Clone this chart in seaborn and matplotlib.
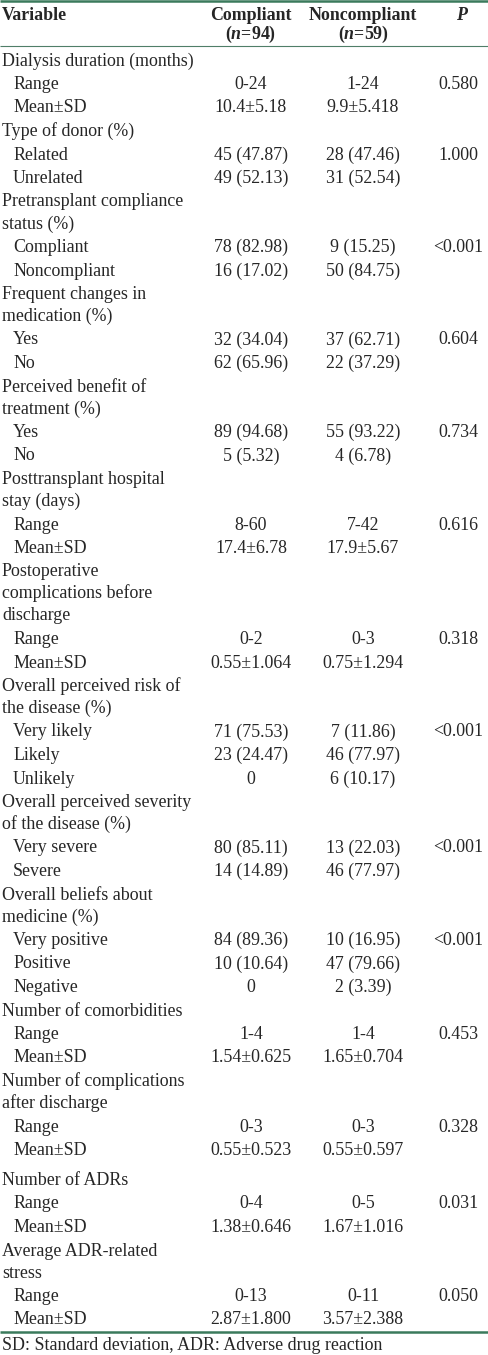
import numpy as np
import pandas as pd
import seaborn as sns
import matplotlib as mpl
import matplotlib.pyplot as plt

sns.set_theme(style="white")
mpl.rcParams["font.family"] = ["Liberation Serif", "DejaVu Serif"]
mpl.rcParams["mathtext.fontset"] = "custom"
mpl.rcParams["mathtext.rm"] = "Liberation Serif"
mpl.rcParams["mathtext.it"] = "Liberation Serif:italic"
mpl.rcParams["mathtext.bf"] = "Liberation Serif:bold"
mpl.rcParams["mathtext.bfit"] = "Liberation Serif:bold:italic"

# table content
col_headers = ["Variable", "Compliant", "Noncompliant", "P"]
group_sizes = ["94", "59"]

row_label = [
    "Dialysis duration (months)", "Range", "Mean±SD",
    "Type of donor (%)", "Related", "Unrelated",
    "Pretransplant compliance\nstatus (%)", "Compliant", "Noncompliant",
    "Frequent changes in\nmedication (%)", "Yes", "No",
    "Perceived benefit of\ntreatment (%)", "Yes", "No",
    "Posttransplant hospital\nstay (days)", "Range", "Mean±SD",
    "Postoperative\ncomplications before\ndischarge", "Range", "Mean±SD",
    "Overall perceived risk of\nthe disease (%)", "Very likely", "Likely", "Unlikely",
    "Overall perceived severity\nof the disease (%)", "Very severe", "Severe",
    "Overall beliefs about\nmedicine (%)", "Very positive", "Positive", "Negative",
    "Number of comorbidities", "Range", "Mean±SD",
    "Number of complications\nafter discharge", "Range", "Mean±SD",
    "Number of ADRs", "Range", "Mean±SD",
    "Average ADR-related\nstress", "Range", "Mean±SD",
]
row_level = [
    0, 1, 1,
    0, 1, 1,
    0, 1, 1,
    0, 1, 1,
    0, 1, 1,
    0, 1, 1,
    0, 1, 1,
    0, 1, 1, 1,
    0, 1, 1,
    0, 1, 1, 1,
    0, 1, 1,
    0, 1, 1,
    0, 1, 1,
    0, 1, 1,
]
compliant = [
    "", "0-24", "10.4±5.18",
    "", "45 (47.87)", "49 (52.13)",
    "", "78 (82.98)", "16 (17.02)",
    "", "32 (34.04)", "62 (65.96)",
    "", "89 (94.68)", "5 (5.32)",
    "", "8-60", "17.4±6.78",
    "", "0-2", "0.55±1.064",
    "", "71 (75.53)", "23 (24.47)", "0",
    "", "80 (85.11)", "14 (14.89)",
    "", "84 (89.36)", "10 (10.64)", "0",
    "", "1-4", "1.54±0.625",
    "", "0-3", "0.55±0.523",
    "", "0-4", "1.38±0.646",
    "", "0-13", "2.87±1.800",
]
noncompliant = [
    "", "1-24", "9.9±5.418",
    "", "28 (47.46)", "31 (52.54)",
    "", "9 (15.25)", "50 (84.75)",
    "", "37 (62.71)", "22 (37.29)",
    "", "55 (93.22)", "4 (6.78)",
    "", "7-42", "17.9±5.67",
    "", "0-3", "0.75±1.294",
    "", "7 (11.86)", "46 (77.97)", "6 (10.17)",
    "", "13 (22.03)", "46 (77.97)",
    "", "10 (16.95)", "47 (79.66)", "2 (3.39)",
    "", "1-4", "1.65±0.704",
    "", "0-3", "0.55±0.597",
    "", "0-5", "1.67±1.016",
    "", "0-11", "3.57±2.388",
]
p_value = [
    "", "0.580", "",
    "", "1.000", "",
    "", "<0.001", "",
    "", "0.604", "",
    "", "0.734", "",
    "", "0.616", "",
    "", "0.318", "",
    "", "<0.001", "", "",
    "", "<0.001", "",
    "", "<0.001", "", "",
    "", "0.453", "",
    "", "0.328", "",
    "", "0.031", "",
    "", "0.050", "",
]
footnote = "SD: Standard deviation, ADR: Adverse drug reaction"

df = pd.DataFrame({"label": row_label, "level": row_level, "comp": compliant,
                   "noncomp": noncompliant, "p": p_value})

# layout (pixels)
W, H = 488, 1355
fs = 12.9
green = "#3b7a5c"
x_var, x_sub, x_comp, x_non, x_p = 2, 13, 251, 363, 458
first_y, row_step, wrap_step = 60, 23.5, 22.0
gaps = {"Number of ADRs": 6.5}
base_off = 5.5

fig = plt.figure(figsize=(W / 100, H / 100), dpi=100)
ax = fig.add_axes([0, 0, 1, 1])
ax.set_xlim(0, W)
ax.set_ylim(H, 0)
ax.axis("off")

# rules
ax.hlines(1.2, 0, W, color=green, lw=1.8)
ax.hlines(45.7, 0, W, color="#4f7e68", lw=0.8)
ax.hlines(1332, 0, W, color=green, lw=1.8)

# header
hb1, hb2 = 19.5, 38.5
ax.text(x_var, hb1, col_headers[0], fontsize=fs, fontweight="bold", va="baseline", ha="left")
ax.text(x_comp, hb1, col_headers[1], fontsize=fs, fontweight="bold", va="baseline", ha="center")
ax.text(x_non, hb1, col_headers[2], fontsize=fs, fontweight="bold", va="baseline", ha="center")
ax.text(x_p + 3, hb1, col_headers[3], fontsize=fs, fontweight="bold", fontstyle="italic",
        va="baseline", ha="center")
for xc, n in zip([x_comp, x_non], group_sizes):
    ax.text(xc, hb2, "(" + r"$\mathbfit{n}$" + "=" + n + ")", fontsize=fs,
            fontweight="bold", va="baseline", ha="center")

# body
y = first_y
for _, r in df.iterrows():
    y += gaps.get(r["label"], 0)
    lines = r["label"].split("\n")
    x0 = x_sub if r["level"] == 1 else x_var
    for k, line in enumerate(lines):
        ax.text(x0, y + k * wrap_step + base_off, line, fontsize=fs, va="baseline", ha="left")
    ax.text(x_comp, y + base_off, r["comp"], fontsize=fs, va="baseline", ha="center")
    ax.text(x_non, y + base_off, r["noncomp"], fontsize=fs, va="baseline", ha="center")
    ax.text(x_p, y + base_off, r["p"], fontsize=fs, va="baseline", ha="center")
    y += row_step + (len(lines) - 1) * wrap_step

ax.text(x_var, 1350, footnote, fontsize=fs, va="baseline", ha="left")

fig.savefig("out.png", dpi=100)
